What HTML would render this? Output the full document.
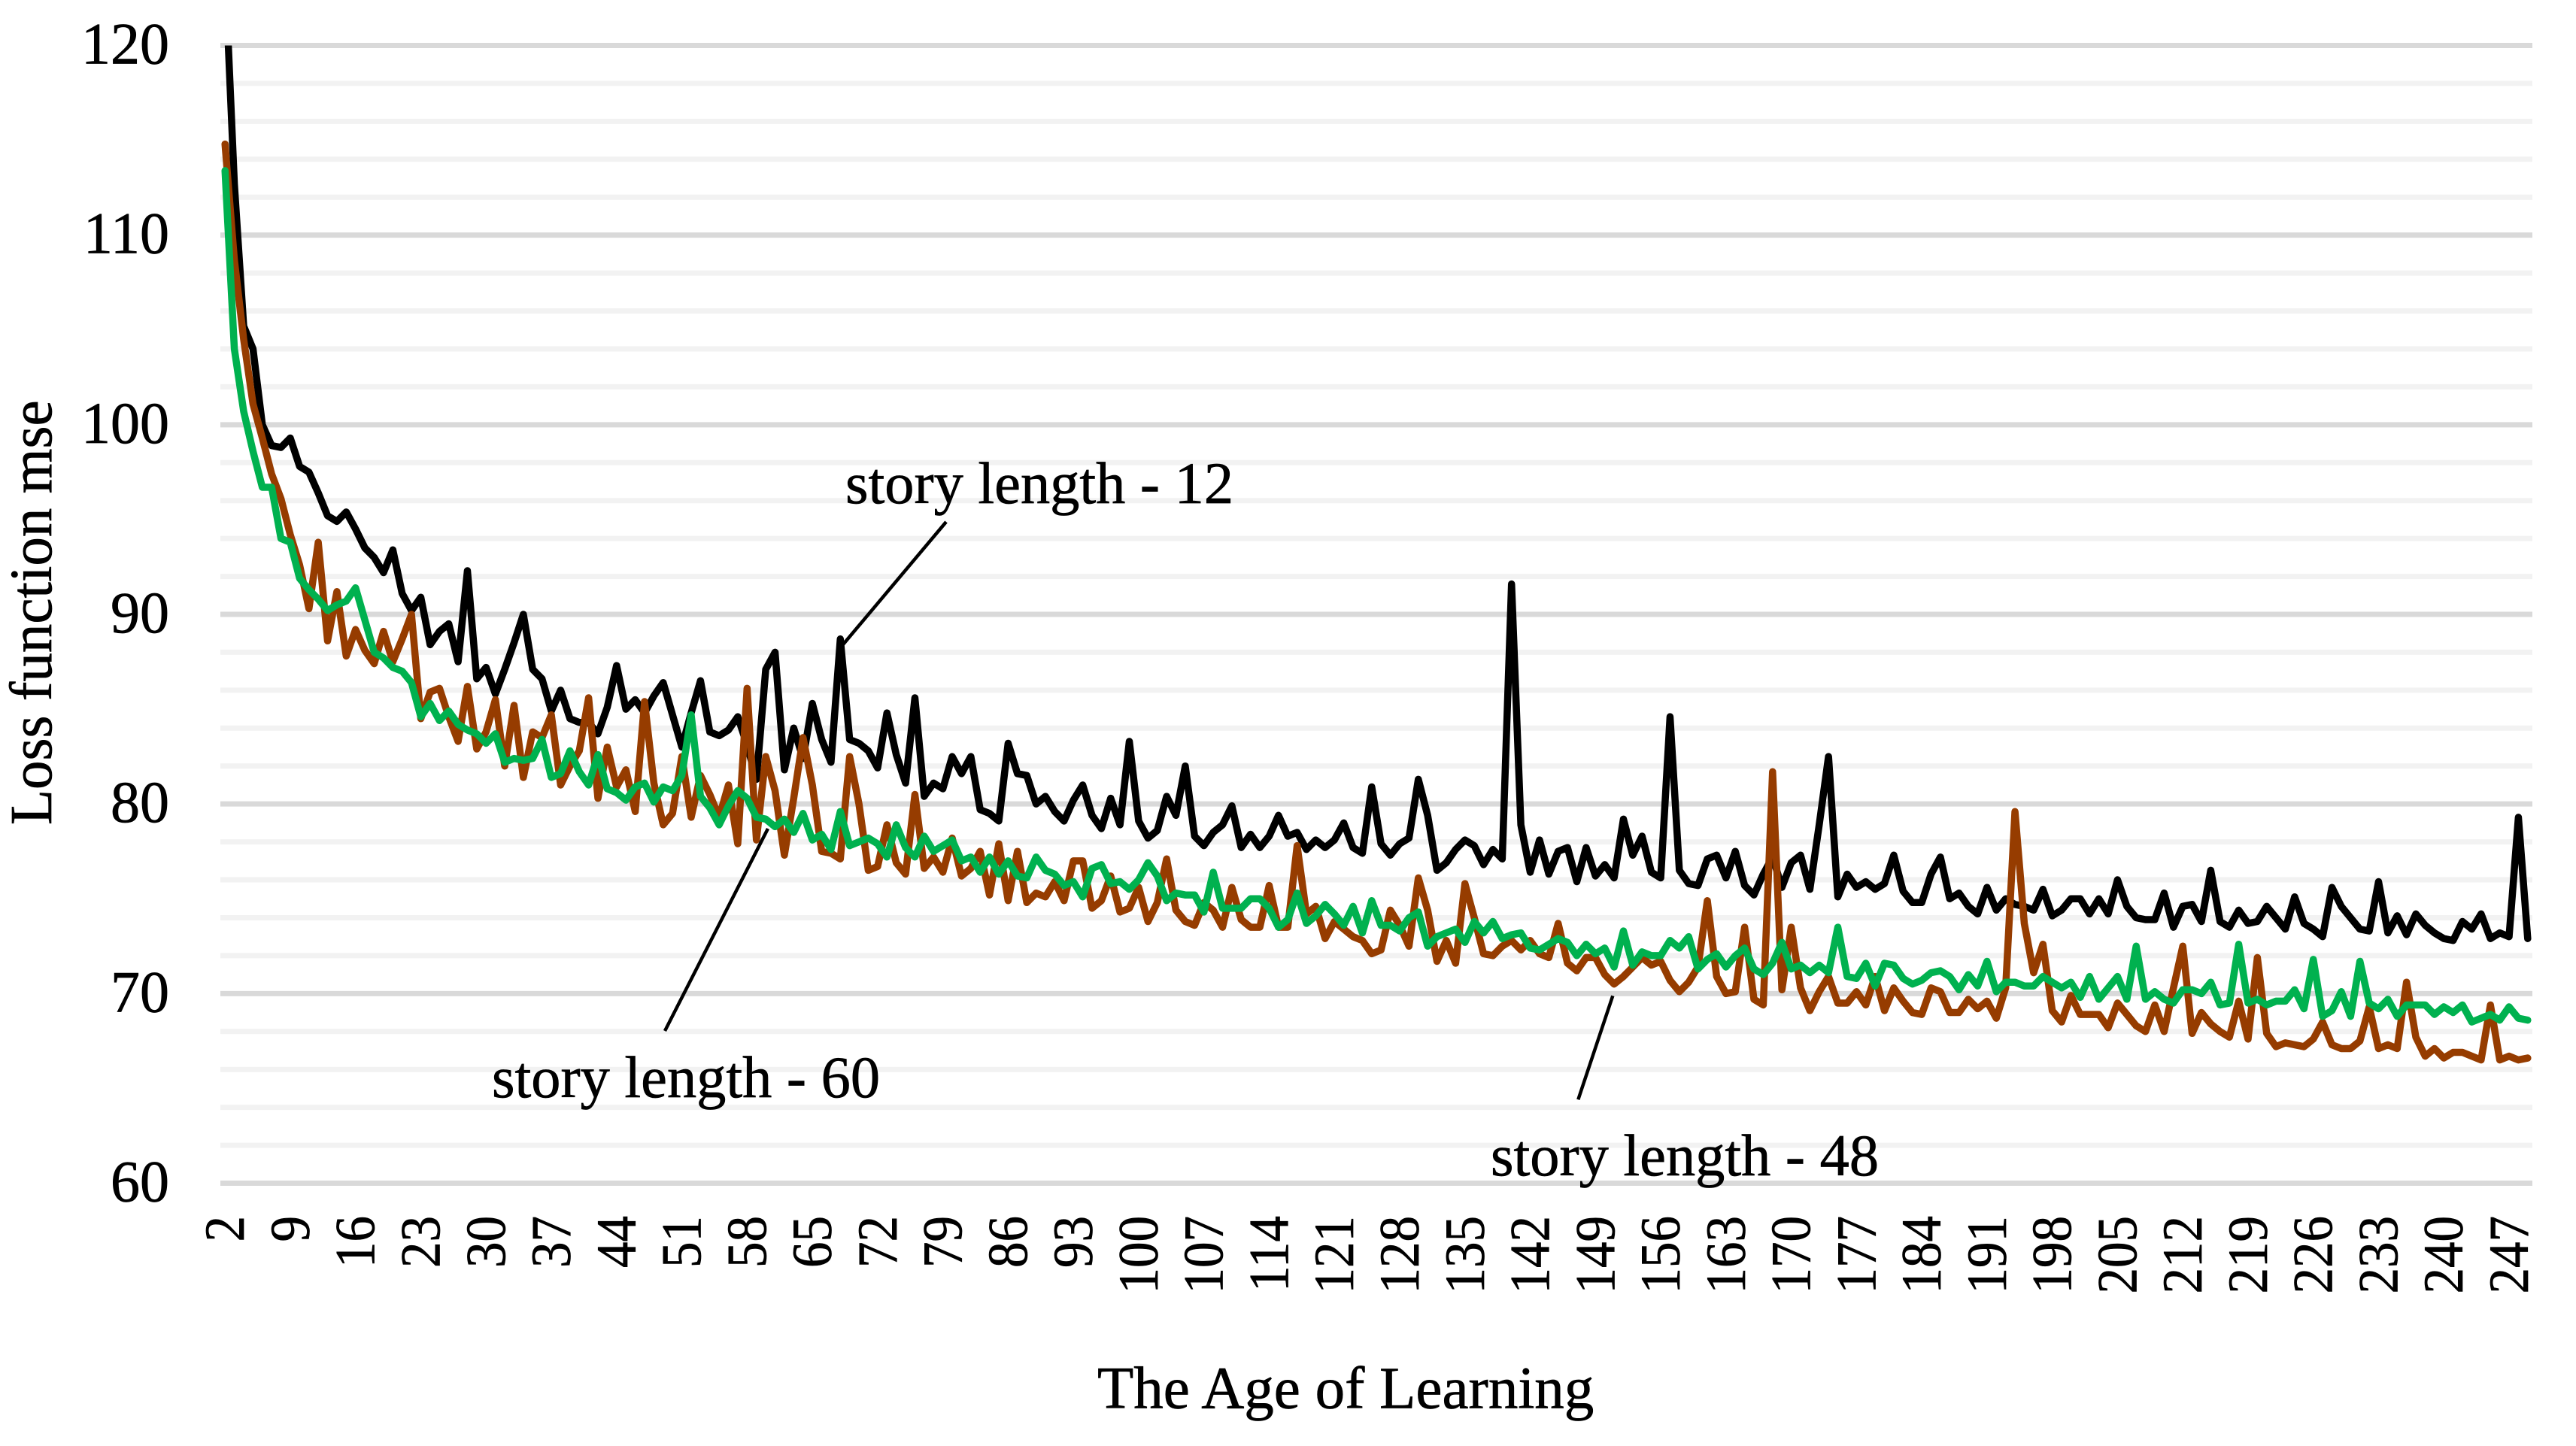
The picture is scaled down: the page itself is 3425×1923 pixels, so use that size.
<!DOCTYPE html>
<html lang="en">
<head>
<meta charset="utf-8">
<title>Loss function mse by the age of learning</title>
<style>
html,body{margin:0;padding:0;background:#fff}
svg{display:block}
text{font-family:"Liberation Serif","Times New Roman",serif;fill:#000;stroke:#000;stroke-width:.7px}
</style>
</head>
<body>
<svg id="chart" xmlns="http://www.w3.org/2000/svg" width="3425" height="1923" viewBox="0 0 3425 1923">
  <rect x="0" y="0" width="3425" height="1923" fill="#fff"/>
  <defs>
    <clipPath id="plot-clip"><rect x="280" y="60.5" width="3100" height="1520"/></clipPath>
  </defs>
  <g id="grid"></g>
  <g id="yticks"></g>
  <g id="xticks"></g>
  <g id="series" clip-path="url(#plot-clip)"></g>

  <text transform="translate(68,1097) rotate(-90) scale(.975,1)" font-size="79">Loss function mse</text>
  <text x="1459" y="1872.5" font-size="79">The Age of Learning</text>

  <line x1="1258" y1="694" x2="1121" y2="857" stroke="#000" stroke-width="4.5"/>
  <line x1="1021" y1="1102" x2="884" y2="1371" stroke="#000" stroke-width="4.5"/>
  <line x1="2144.3" y1="1324.3" x2="2098.3" y2="1462.3" stroke="#000" stroke-width="4.5"/>

  <text x="1124" y="669" font-size="78.4">story length - 12</text>
  <text x="654" y="1459" font-size="78.4">story length - 60</text>
  <text x="1982" y="1563" font-size="78.4">story length - 48</text>
</svg>

<script>
const firstAge = 2;
const yTickLabels = [60, 70, 80, 90, 100, 110, 120];
const xTickLabels = [2,9,16,23,30,37,44,51,58,65,72,79,86,93,100,107,114,121,128,135,142,149,156,163,170,177,184,191,198,205,212,219,226,233,240,247];

const storyLength12 = [
124,112.7,105.2,104,100,98.9,98.8,99.3,97.8,97.5,
96.4,95.2,94.9,95.4,94.5,93.5,93,92.2,93.4,91.1,
90.2,90.9,88.4,89.1,89.5,87.5,92.3,86.6,87.2,85.8,
87.1,88.5,90,87.1,86.6,84.9,86,84.5,84.3,84.3,
83.7,85.1,87.3,85,85.5,84.8,85.7,86.4,84.7,83,
84.8,86.5,83.8,83.6,83.9,84.6,83.1,81.3,87.1,88,
81.8,84,82.4,85.3,83.4,82.2,88.7,83.4,83.2,82.8,
81.9,84.8,82.6,81.1,85.6,80.4,81.1,80.8,82.5,81.6,
82.5,79.7,79.5,79.1,83.2,81.6,81.5,80,80.4,79.6,
79.1,80.2,81,79.4,78.7,80.3,78.9,83.3,79.1,78.2,
78.6,80.4,79.4,82,78.3,77.8,78.5,78.9,79.9,77.7,
78.4,77.7,78.3,79.4,78.3,78.5,77.6,78.1,77.7,78.1,
79,77.7,77.4,80.9,77.9,77.3,77.9,78.2,81.3,79.4,
76.5,76.9,77.6,78.1,77.8,76.8,77.6,77.1,91.6,78.9,
76.4,78.1,76.3,77.5,77.7,75.9,77.7,76.2,76.8,76.1,
79.2,77.3,78.3,76.4,76.1,84.6,76.5,75.8,75.7,77.1,
77.3,76.1,77.5,75.7,75.2,76.3,77.2,75.6,76.9,77.3,
75.5,78.9,82.5,75.1,76.3,75.6,75.9,75.5,75.8,77.3,
75.4,74.8,74.8,76.3,77.2,75,75.3,74.6,74.2,75.6,
74.4,75,74.7,74.6,74.4,75.5,74.1,74.4,75,75,
74.2,75,74.2,76,74.6,74,73.9,73.9,75.3,73.5,
74.6,74.7,73.8,76.5,73.8,73.5,74.4,73.7,73.8,74.6,
74,73.4,75.1,73.7,73.4,73,75.6,74.6,74,73.4,
73.3,75.9,73.2,74.1,73.1,74.2,73.6,73.2,72.9,72.8,
73.8,73.4,74.2,72.9,73.2,73,79.3,72.9
];

const storyLength48 = [
114.8,108.7,104.5,101.1,99.3,97.4,96.1,94.2,92.6,90.3,
93.8,88.6,91.2,87.8,89.2,88.1,87.4,89.1,87.5,88.7,
90,84.5,85.9,86.1,84.6,83.3,86.2,82.9,83.8,85.5,
82,85.2,81.4,83.8,83.5,84.7,81,82,82.8,85.6,
80.3,83,80.9,81.8,79.6,85.4,81.1,78.9,79.5,82.5,
79.3,81.5,80.5,79.3,81,77.9,86.1,78.1,82.5,80.7,
77.3,80.3,83.5,81,77.5,77.4,77.1,82.5,80,76.5,
76.7,78.9,76.9,76.3,80.5,76.6,77.2,76.4,78.2,76.2,
76.6,77.5,75.2,77.9,74.9,77.5,74.8,75.3,75.1,75.9,
74.9,77,77,74.5,74.9,76.2,74.3,74.5,75.6,73.8,
74.8,77.1,74.4,73.8,73.6,74.8,74.4,73.5,75.6,73.9,
73.5,73.5,75.7,73.5,73.5,77.8,74.2,74.6,72.9,73.8,
73.4,73,72.8,72.1,72.3,74.4,73.6,72.5,76.1,74.4,
71.7,72.8,71.6,75.8,74,72.1,72,72.5,72.8,72.3,
72.8,72.1,71.9,73.7,71.6,71.2,71.9,71.9,71,70.5,
70.9,71.4,71.9,71.5,71.7,70.7,70.1,70.6,71.4,74.9,
70.9,70,70.1,73.5,69.7,69.4,81.7,70.2,73.5,70.3,
69.1,70.1,70.9,69.5,69.5,70.1,69.4,70.9,69.1,70.3,
69.6,69,68.9,70.3,70.1,69,69,69.7,69.2,69.6,
68.7,70.3,79.6,73.7,71.1,72.6,69.1,68.5,69.9,68.9,
68.9,68.9,68.2,69.5,68.9,68.3,68,69.4,68,70.3,
72.5,67.9,69,68.4,68,67.7,69.6,67.6,71.9,67.9,
67.2,67.4,67.3,67.2,67.6,68.5,67.3,67.1,67.1,67.5,
69.3,67.1,67.3,67.1,70.6,67.7,66.7,67.1,66.6,66.9,
66.9,66.7,66.5,69.4,66.5,66.7,66.5,66.6
];

const storyLength60 = [
113.4,104,100.7,98.6,96.7,96.7,94,93.8,91.9,91.3,
90.8,90.2,90.5,90.7,91.4,89.7,88,87.7,87.2,87,
86.4,84.6,85.3,84.4,84.9,84.2,83.9,83.7,83.2,83.7,
82.2,82.4,82.3,82.4,83.4,81.4,81.6,82.8,81.7,81,
82.6,80.8,80.6,80.2,80.9,81.1,80.1,80.9,80.7,81.5,
84.7,80.4,79.8,78.9,79.9,80.7,80.3,79.3,79.2,78.8,
79.2,78.5,79.5,78.1,78.4,77.6,79.6,77.8,78,78.2,
77.9,77.2,78.9,77.7,77.2,78.3,77.5,77.8,78.1,77,
77.2,76.4,77.2,76.3,77,76.2,76.1,77.2,76.5,76.3,
75.7,75.9,75.1,76.6,76.8,75.8,75.9,75.5,76,76.9,
76.2,74.9,75.3,75.2,75.2,74.3,76.4,74.5,74.5,74.5,
75,75,74.5,73.5,73.9,75.3,73.7,74.1,74.7,74.2,
73.6,74.6,73.2,74.9,73.6,73.6,73.3,74,74.3,72.5,
73,73.2,73.4,72.7,73.8,73.2,73.8,72.9,73.1,73.2,
72.4,72.3,72.6,72.9,72.7,72,72.6,72.1,72.4,71.4,
73.3,71.5,72.2,72,72,72.8,72.4,73,71.3,71.8,
72.1,71.4,72,72.4,71.3,71,71.6,72.7,71.3,71.5,
71.1,71.5,71.1,73.5,70.9,70.8,71.6,70.4,71.6,71.5,
70.8,70.5,70.7,71.1,71.2,70.9,70.2,71,70.4,71.7,
70.1,70.6,70.6,70.4,70.4,70.9,70.6,70.3,70.6,69.8,
70.9,69.7,70.3,70.9,69.7,72.5,69.7,70.1,69.7,69.5,
70.2,70.2,70,70.6,69.4,69.5,72.6,69.5,69.7,69.4,
69.6,69.6,70.2,69.2,71.8,68.8,69.1,70.1,68.8,71.7,
69.5,69.2,69.7,68.8,69.4,69.4,69.4,68.9,69.3,69,
69.4,68.5,68.7,68.9,68.6,69.3,68.7,68.6
];

const SVG_NS = 'http://www.w3.org/2000/svg';
const plotLeft = 293, plotRight = 3367, plotTop = 60.5, plotBottom = 1573.5;
const yMin = 60, yMax = 120, catCount = storyLength12.length;

function xScale(age) {
  return plotLeft + (age - firstAge + 0.5) * (plotRight - plotLeft) / catCount;
}
function yScale(v) {
  return plotBottom - (v - yMin) * (plotBottom - plotTop) / (yMax - yMin);
}

const gridGroup = document.getElementById('grid');
for (let v = yMin; v <= yMax; v += 2) {
  const major = v % 10 === 0;
  const gl = document.createElementNS(SVG_NS, 'line');
  
  
  gl.setAttribute('x1', plotLeft);
  gl.setAttribute('x2', plotRight);
  gl.setAttribute('y1', yScale(v));
  gl.setAttribute('y2', yScale(v));
  gl.setAttribute('stroke', major ? '#d9d9d9' : '#f2f2f2');
  gl.setAttribute('stroke-width', '7');
  gridGroup.appendChild(gl);
}

const yTickGroup = document.getElementById('yticks');
yTickLabels.forEach(function (v) {
  const t = document.createElementNS(SVG_NS, 'text');
  
  
  t.setAttribute('x', 225);
  t.setAttribute('y', yScale(v) + 24);
  t.setAttribute('font-size', '78');
  t.setAttribute('text-anchor', 'end');
  t.textContent = v;
  yTickGroup.appendChild(t);
});

const xTickGroup = document.getElementById('xticks');
xTickLabels.forEach(function (age) {
  const t = document.createElementNS(SVG_NS, 'text');
  
  
  t.setAttribute('transform', 'translate(' + (xScale(age) + 25) + ',1617) rotate(-90) scale(.92,1)');
  t.setAttribute('font-size', '75');
  t.setAttribute('text-anchor', 'end');
  t.textContent = age;
  xTickGroup.appendChild(t);
});

function drawSeries(values, color, name) {
  const pts = values.map(function (v, i) {
    return xScale(firstAge + i).toFixed(2) + ',' + yScale(v).toFixed(2);
  }).join(' ');
  const p = document.createElementNS(SVG_NS, 'polyline');
  
  
  p.setAttribute('points', pts);
  p.setAttribute('fill', 'none');
  p.setAttribute('stroke', color);
  p.setAttribute('stroke-width', '9.5');
  p.setAttribute('stroke-linejoin', 'round');
  p.setAttribute('stroke-linecap', 'round');
  document.getElementById('series').appendChild(p);
}
drawSeries(storyLength12, '#000000', 'line-story-length-12');
drawSeries(storyLength48, '#963c00', 'line-story-length-48');
drawSeries(storyLength60, '#00b14f', 'line-story-length-60');
</script>
</body>
</html>
